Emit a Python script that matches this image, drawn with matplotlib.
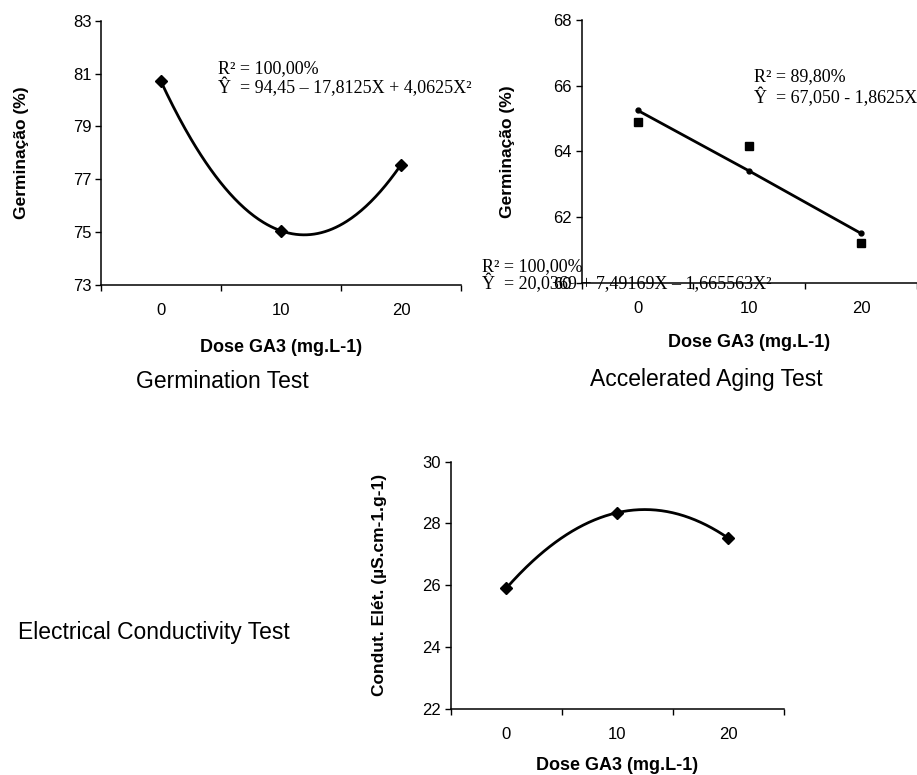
import numpy as np
import matplotlib

matplotlib.use("Agg")
import matplotlib.pyplot as plt

# dados
doses = ["0", "10", "20"]
germ_teste = [80.7, 75.05, 77.55]
germ_env_obs = [64.9, 64.15, 61.2]
germ_env_ajust = [65.25, 63.4, 61.5]
condutividade = [25.9, 28.35, 27.52]

W, H = 917, 775
SANS = "Liberation Sans"
SERIF = "Liberation Serif"


def px(x, y):
    return x / W, 1 - y / H


def axes_box(left, top, right, bottom):
    return [left / W, 1 - bottom / H, (right - left) / W, (bottom - top) / H]


def style_axes(ax, ylim, yticks, ylabel, ylab_x, xlab_y):
    n = len(doses)
    ax.set_xlim(0, n)
    ax.set_ylim(*ylim)
    ax.set_yticks(yticks)
    ax.set_xticks(np.arange(n + 1))
    ax.set_xticklabels([])
    ax.set_xticks(np.arange(n) + 0.5, minor=True)
    ax.set_xticklabels(doses, minor=True, fontsize=12, family=SANS)
    ax.tick_params(axis="x", which="major", length=4, width=1, direction="out")
    ax.tick_params(axis="x", which="minor", length=0, pad=13)
    ax.tick_params(axis="y", length=4, width=1, labelsize=12, pad=3)
    for lab in ax.get_yticklabels():
        lab.set_family(SANS)
    for s in ["top", "right"]:
        ax.spines[s].set_visible(False)
    for s in ["left", "bottom"]:
        ax.spines[s].set_linewidth(1.1)
    ax.set_ylabel(ylabel, fontsize=12.5, fontweight="bold", family=SANS)
    ax.yaxis.set_label_coords(ylab_x, 0.5)
    ax.set_xlabel("Dose GA3 (mg.L-1)", fontsize=13, fontweight="bold", family=SANS)
    ax.xaxis.set_label_coords(0.5, xlab_y)
    ax.patch.set_alpha(0)


def quad_curve(ax, yvals):
    xs = np.arange(len(yvals)) + 0.5
    coef = np.polyfit(xs, yvals, 2)
    xf = np.linspace(xs[0], xs[-1], 200)
    ax.plot(xf, np.polyval(coef, xf), color="black", lw=2)
    ax.plot(xs, yvals, "D", color="black", ms=6)


fig = plt.figure(figsize=(W / 100, H / 100), dpi=100)

# Germination Test
ax1 = fig.add_axes(axes_box(101, 20.7, 461, 285))
quad_curve(ax1, germ_teste)
style_axes(ax1, (73, 83), np.arange(73, 84, 2), "Germinação (%)", -0.20, -0.204)

# Accelerated Aging Test
ax2 = fig.add_axes(axes_box(581.7, 20, 917, 282.7))
xs = np.arange(len(doses)) + 0.5
ax2.plot(xs, germ_env_ajust, "-o", color="black", lw=2, ms=3.5)
ax2.plot(xs, germ_env_obs, "s", color="black", ms=6)
style_axes(ax2, (60, 68), np.arange(60, 69, 2), "Germinação (%)", -0.199, -0.197)

# Electrical Conductivity Test
ax3 = fig.add_axes(axes_box(450.7, 461.7, 784, 708.7))
quad_curve(ax3, condutividade)
style_axes(ax3, (22, 30), np.arange(22, 31, 2), "Condut. Elét. (µS.cm-1.g-1)", -0.191, -0.196)

# equações
eq_kw = dict(fontsize=13, family=SERIF, va="center", ha="left")
fig.text(*px(218, 69), "R² = 100,00%", **eq_kw)
fig.text(*px(218, 87), "Ŷ  = 94,45 – 17,8125X + 4,0625X²", **eq_kw)
fig.text(*px(754, 77), "R² = 89,80%", **eq_kw)
fig.text(*px(754, 97), "Ŷ  = 67,050 - 1,8625X", **eq_kw)
fig.text(*px(482, 267), "R² = 100,00%", **eq_kw)
fig.text(*px(482, 283), "Ŷ  = 20,0369 + 7,49169X – 1,665563X²", **eq_kw)

# títulos
t_kw = dict(fontsize=16.5, family=SANS, va="center")
fig.text(*px(222, 382), "Germination Test", ha="center", **t_kw)
fig.text(*px(706, 380), "Accelerated Aging Test", ha="center", **t_kw)
fig.text(*px(290, 633), "Electrical Conductivity Test", ha="right", **t_kw)

fig.savefig("out.png", dpi=100, facecolor="white")
